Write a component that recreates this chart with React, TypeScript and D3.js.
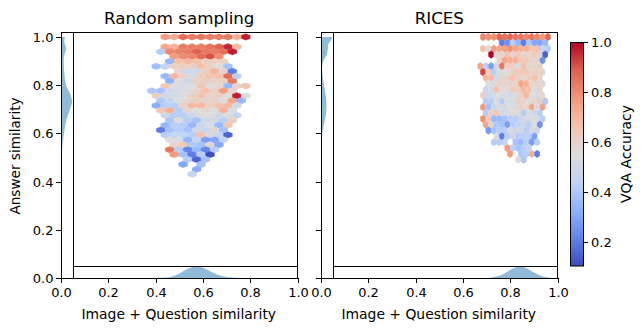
import { useEffect, useRef } from 'react';
import * as d3 from 'd3';

// hexbin rows: [row index from the top, first column, ...VQA accuracy per hex]
const randomRows: (number | null)[][] = [
  [0, 0, .77, .73, .86, .83, .84, .83, .83, .84, .71, .97],
  [2, 0, .74, .71, .83, .83, .83, .85, .88, .96, .69],
  [3, 0, .42, .81, .82, .83, .88, .84, .83, .86, .97],
  [4, 1, .76, .8, .81, .86, .91, .8],
  [5, 1, .35, .67, .69, .67, .61, .62, .61],
  [6, -1, .37, .45, .61, .62, .61, .67, .61, .55, .38],
  [7, 2, .59, .48, .5, .61, .7, .59, .2],
  [8, 0, .35, .7, .59, .52, .61, .65, .67, .86, .42],
  [9, 1, .33, .55, .5, .61, .61, .59, .61, .84],
  [10, 0, .64, .55, .52, .55, .65, .55, .58, .35, .59, .65],
  [11, -1, .4, .38, .5, .52, .55, .59, .67, .61, .76, .59],
  [12, -1, .61, .5, .52, .55, .61, .65, .59, .61, .55, .97, .55],
  [13, 0, .4, .45, .55, .59, .61, .59, .61, .55, .74, .35],
  [14, -1, .32, .42, .42, .61, .69, .69, .61, .67, .69, .5],
  [15, 0, .64, .71, .42, .58, .55, .58, .55, .71, .52],
  [16, 0, .5, .42, .42, .48, .55, .55, .5, .55, .45],
  [17, 1, .4, .55, .42, .38, .5, .5, .42, .62],
  [18, 0, .35, .42, .42, .35, .48, .52, .35, .65],
  [19, 0, .2, .38, .42, .38, .5, .48, .58, .38],
  [20, 0, .42, .45, .45, .42, .67, .52, .45, .15],
  [21, 1, .55, .52, .35, .45, .28, .3, .45],
  [22, 1, .59, .64, .4, .38, .59, .3],
  [23, 1, .84, .42, .22, .35, .22, .42],
  [24, 1, .77, .38, .2, .42, .1],
  [25, 3, .42, .15, .38],
  [26, 2, .3, null, .38],
  [27, 4, .32],
  [28, 3, .45],
];

const ricesRows: (number | null)[][] = [
  [0, 0, .81, .79, .79, .87, .85, .87, .84, .84, .81, .84, .81, .77, .87],
  [1, 4, .2, .25, .42, .35, .2, .4, .3, .3, .35],
  [2, 0, .67, .55, .76, .74, .76, .79, .74, .71, .71, .65, .67, .45, .42],
  [3, 2, 1.0, .58, .58, .67, .59, .64, .59, .59, .64, .59, .15],
  [4, 3, .59, .74, .71, .71, .64, .64, .59, .59, .25],
  [5, 0, .74, .42, .28, .5, .84, .61, .61, .55, .67, .59, .59, .59],
  [6, 0, .92, .61, .42, .52, .55, .59, .64, .64, .65, .58, .61, .59],
  [7, 1, .69, .69, .5, .59, .59, .67, .61, .58, .61, .67, .58],
  [8, 1, .55, .52, .59, .59, .59, .59, .74, .71, .59, .59, .58],
  [9, 1, .48, .5, .67, .55, .55, .64, .61, .69, .67, .55, .58],
  [10, 0, .61, .48, .5, .55, .52, .52, .52, .61, .69, .55, .52, .58],
  [11, 1, .42, .42, .55, .42, .55, .52, .61, .59, .55, .58, .61, .4],
  [12, 0, .77, .38, .46, .52, .5, .55, .52, .61, .59, .74, .52, .75],
  [13, 1, .42, .61, .64, .5, .52, .55, .55, .42, .52, .5, .42],
  [14, 0, .79, .64, .35, .35, .38, .42, .42, .48, .52, .55, .52, .42],
  [15, 1, .74, .58, .4, .38, .28, .42, .45, .5, .42, .55, .25],
  [16, 1, .27, .38, .42, .42, .52, .5, .5, .42, .52, .48],
  [17, 3, .55, .2, .42, .5, .42, .42, .42, .28],
  [18, 2, .42, .42, .45, null, .38, .35, .42, .28, .42],
  [19, 5, .77, .42, .38, .42, .45],
  [20, 5, .77, null, .4, .42, .71, .2],
  [21, 7, .55, .4],
];

// hexbin grid in data units
const randomGrid = { x0: 0.4407, dx: 0.03784, y0: 1, dy: 0.02033 };
const ricesGrid = { x0: 0.685, dx: 0.02288, y0: 1, dy: 0.02425 };

// marginal densities, scaled so 1 fills the strip
const randomTop = [[.4, 0], [.44, .04], [.47, .13], [.5, .38], [.53, .7], [.575, .97], [.61, .78], [.645, .42], [.68, .17], [.72, .04], [.76, 0]];
const ricesTop = [[.68, 0], [.72, .05], [.76, .22], [.79, .55], [.82, .85], [.84, .95], [.87, .8], [.9, .47], [.93, .18], [.96, .04], [.98, 0]];
const randomSide = [[1, .33], [.98, .28], [.95, .42], [.92, .25], [.85, .28], [.8, .42], [.76, .8], [.73, .92], [.7, .75], [.65, .42], [.6, .25], [.55, .12], [.5, .04], [.45, 0]];
const ricesSide = [[1, .95], [.99, .85], [.97, .6], [.96, .58], [.93, .5], [.9, .2], [.87, .08], [.85, .12], [.8, .25], [.75, .42], [.72, .46], [.68, .42], [.65, .3], [.6, .12], [.55, .04], [.5, 0]];

const ticks = [0, 0.2, 0.4, 0.6, 0.8, 1];
const barTicks = [0.2, 0.4, 0.6, 0.8, 1];
const coolwarm = ['#3b4cc0', '#6282ea', '#8db0fe', '#c0d4f5', '#dddcdc', '#f5c4ad', '#f4987a', '#de604d', '#b40426'];

const FONT = 'DejaVu Sans, sans-serif';
const BLUE = '#1f77b4';

const App = () => {
  const svgRef = useRef<SVGSVGElement>(null);

  useEffect(() => {
    const svg = d3.select(svgRef.current);
    svg.selectAll('*').remove();

    const top = 32;
    const bottom = 278;
    const stripSize = 12;
    const y = d3.scaleLinear().domain([0, 1.0207]).range([bottom, top]);
    const color = d3.scaleLinear<string>()
      .domain(coolwarm.map((_, i) => 0.1 + (0.9 * i) / (coolwarm.length - 1)))
      .range(coolwarm);

    const drawPanel = (left: number, title: string, rows: (number | null)[][], grid: any, topKde: number[][], sideKde: number[][], showY: boolean) => {
      const right = left + 236.5;
      const x = d3.scaleLinear().domain([0, 1]).range([left, right]);
      const g = svg.append('g');

      // hexagons
      const hexW = x(grid.dx) - x(0);
      const rowH = y(0) - y(grid.dy);
      rows.forEach((row) => {
        const j = row[0] as number;
        const first = row[1] as number;
        row.slice(2).forEach((v, k) => {
          if (v === null) return;
          const cx = x(grid.x0 + (first + k) * grid.dx - (j % 2 ? grid.dx / 2 : 0));
          const cy = y(grid.y0 - j * grid.dy);
          const pts = [[-.5, -1 / 3], [0, -2 / 3], [.5, -1 / 3], [.5, 1 / 3], [0, 2 / 3], [-.5, 1 / 3]]
            .map(([a, b]) => `${cx + a * hexW},${cy + b * rowH}`).join(' ');
          g.append('polygon').attr('points', pts).attr('fill', color(v)).attr('stroke', color(v)).attr('stroke-width', 0.25);
        });
      });

      // marginal densities
      const sideX = d3.scaleLinear().domain([0, 1]).range([left, left + stripSize]);
      const topY = d3.scaleLinear().domain([0, 1]).range([bottom, bottom - stripSize]);
      g.append('path')
        .attr('d', d3.area<number[]>().x(d => x(d[0])).y0(bottom).y1(d => topY(d[1])).curve(d3.curveMonotoneX)(topKde))
        .attr('fill', BLUE).attr('fill-opacity', 0.5);
      g.append('path')
        .attr('d', d3.area<number[]>().y(d => y(d[0])).x0(left).x1(d => sideX(d[1])).curve(d3.curveCatmullRom)(sideKde))
        .attr('fill', BLUE).attr('fill-opacity', 0.5);

      // frames
      const line = (x1: number, y1: number, x2: number, y2: number) =>
        g.append('line').attr('x1', x1).attr('y1', y1).attr('x2', x2).attr('y2', y2).attr('stroke', 'black').attr('stroke-width', 1);
      g.append('rect').attr('x', left + 0.5).attr('y', top + 0.5).attr('width', right - left - 0.5).attr('height', bottom - top)
        .attr('fill', 'none').attr('stroke', 'black').attr('stroke-width', 1);
      line(left + stripSize + 0.5, top, left + stripSize + 0.5, bottom);
      line(left + stripSize, bottom - stripSize + 0.5, right, bottom - stripSize + 0.5);

      // axes
      ticks.forEach((t) => {
        const tx = Math.round(x(t)) + 0.5;
        line(tx, bottom, tx, bottom + 5);
        g.append('text').attr('x', tx).attr('y', bottom + 18.5).attr('text-anchor', 'middle').attr('font-size', 13).attr('font-family', FONT).text(t.toFixed(1));
        const ty = Math.round(y(t)) + 0.5;
        line(left - 5, ty, left, ty);
        if (showY) {
          g.append('text').attr('x', left - 7.5).attr('y', ty + 4.7).attr('text-anchor', 'end').attr('font-size', 13).attr('font-family', FONT).text(t.toFixed(1));
        }
      });
      g.append('text').attr('x', (left + right) / 2 - 0.5).attr('y', 319).attr('text-anchor', 'middle').attr('font-size', 13.9).attr('font-family', FONT).text('Image + Question similarity');
      g.append('text').attr('x', (left + right) / 2).attr('y', 24).attr('text-anchor', 'middle').attr('font-size', 16.67).attr('font-family', FONT).text(title);
    };

    drawPanel(61, 'Random sampling', randomRows, randomGrid, randomTop, randomSide, true);
    drawPanel(321, 'RICES', ricesRows, ricesGrid, ricesTop, ricesSide, false);

    svg.append('text').attr('transform', `translate(20,156) rotate(-90)`).attr('text-anchor', 'middle').attr('font-size', 13.6).attr('font-family', FONT).text('Answer similarity');

    // colorbar
    const barLeft = 570;
    const barWidth = 13;
    const barScale = d3.scaleLinear().domain([0.104, 1]).range([266, 42]);
    const defs = svg.append('defs');
    const grad = defs.append('linearGradient').attr('id', 'cw').attr('x1', 0).attr('x2', 0).attr('y1', 1).attr('y2', 0);
    coolwarm.forEach((c, i) => grad.append('stop').attr('offset', i / (coolwarm.length - 1)).attr('stop-color', c));
    svg.append('rect').attr('x', barLeft + 0.5).attr('y', 42.5).attr('width', barWidth).attr('height', 223.5).attr('fill', 'url(#cw)').attr('stroke', 'black').attr('stroke-width', 1);
    barTicks.forEach((t) => {
      const ty = Math.round(barScale(t)) + 0.5;
      svg.append('line').attr('x1', barLeft + barWidth).attr('x2', barLeft + barWidth + 5).attr('y1', ty).attr('y2', ty).attr('stroke', 'black');
      svg.append('text').attr('x', barLeft + barWidth + 8).attr('y', ty + 4.7).attr('font-size', 13).attr('font-family', FONT).text(t.toFixed(1));
    });
    svg.append('text').attr('transform', `translate(631,154) rotate(-90)`).attr('text-anchor', 'middle').attr('font-size', 13.9).attr('font-family', FONT).text('VQA Accuracy');
  }, []);

  return <svg ref={svgRef} width={644} height={332} style={{ position: 'absolute', left: 0, top: 0 }} />;
};

export default App;
